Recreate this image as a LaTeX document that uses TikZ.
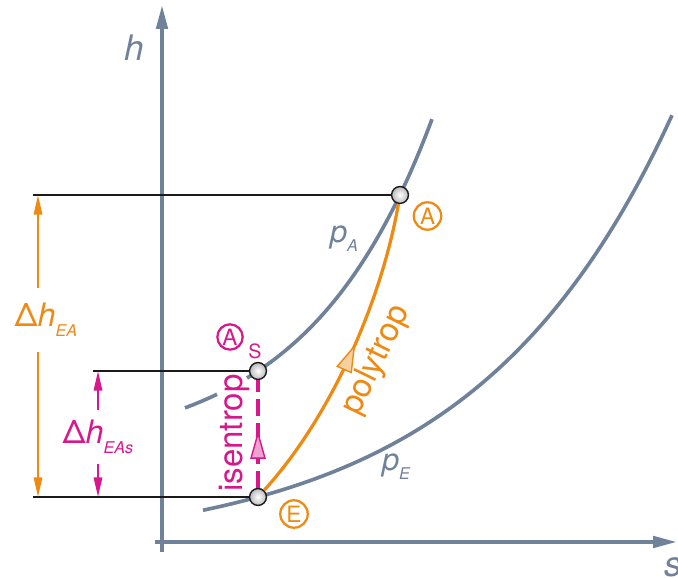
\documentclass[tikz,border=0pt]{standalone}
\usepackage{fontspec}
\setmainfont{TeX Gyre Heros}
\usetikzlibrary{arrows.meta,decorations.markings}
\definecolor{hsaxis}{HTML}{6F8299}
\definecolor{hsorange}{HTML}{EE8A12}
\definecolor{hsmagenta}{HTML}{D8178C}
\definecolor{hsline}{HTML}{1A1A1A}
\newcommand{\hssub}[1]{\raisebox{-0.3em}{\fontsize{11.5}{13}\selectfont\itshape #1}}
\tikzset{
  hs/axis/.style={hsaxis, line width=2.8pt, -{Triangle[length=17pt,width=8pt]}},
  hs/isobar/.style={hsaxis, line width=2.6pt},
  hs/ref/.style={hsline, line width=1pt},
  hs/point/.style={
    circle, draw=hsline, line width=1pt, minimum size=12pt, inner sep=0pt,
    inner color=white, outer color=gray!55
  },
  hs/state/.style={
    circle, draw, line width=1.6pt, minimum size=19.5pt, inner sep=0pt,
    font=\fontsize{16}{16}\selectfont
  },
  hs/dimo/.style={hsorange, line width=1.4pt, -{Triangle[length=14pt,width=6pt]}},
  hs/dimm/.style={hsmagenta, line width=1.4pt, -{Triangle[length=14pt,width=6pt]}},
  hs/lab/.style={font=\fontsize{23}{26}\selectfont, inner sep=0pt},
  hs/proc/.style={font=\fontsize{23.5}{26}\selectfont, inner sep=1pt, anchor=base}
}

\begin{document}
\begin{tikzpicture}[x=0.025cm, y=0.025cm]
  \useasboundingbox (0,0) rectangle (678,578);

  % axes
  \coordinate (hlo) at (162,26);
  \coordinate (htip) at (162,573);
  \coordinate (slo) at (155,36);
  \coordinate (stip) at (677,36);
  \draw[hs/axis] (hlo) -- (htip);
  \draw[hs/axis] (slo) -- (stip);
  \node[hsaxis, font=\fontsize{25}{25}\selectfont\itshape] (hlab) at (134,530) {h};
  \node[hsaxis, font=\fontsize{25}{25}\selectfont\itshape] (slab) at (673,11) {s};

  % isobars
  \draw[hs/isobar] plot[domain=185:217, samples=20] (\x, {123.6+83.4*exp(0.008*(\x-258))});
  \draw[hs/isobar] plot[domain=247:432, samples=60] (\x, {123.6+83.4*exp(0.008*(\x-258))});
  \draw[hs/isobar] plot[domain=203:672, samples=80] (\x, {26+55*exp(0.005*(\x-258))});
  \node[hsaxis, hs/lab, font=\fontsize{22}{24}\selectfont] (pA) at (344,339) {\textit{p}\hssub{A}};
  \node[hsaxis, hs/lab, font=\fontsize{22}{24}\selectfont] (pE) at (396,111) {\textit{p}\hssub{E}};

  % states
  \node[hs/point] (A) at (400,383) {};
  \node[hs/point] (As) at (258,207) {};
  \node[hs/point] (E) at (258,81) {};
  \node[hs/state, hsorange] (Alab) at (427.5,362) {A};
  \node[hs/state, hsorange] (Elab) at (294,64) {E};
  \node[hs/state, hsmagenta, minimum size=18pt] (Aslab) at (230,241) {A};
  \node[hsmagenta, font=\fontsize{14}{14}\selectfont, inner sep=0pt] (Assub) at (255,227) {S};

  % reference lines
  \coordinate (refA) at (33,383);
  \coordinate (refAs) at (93,207);
  \coordinate (refE) at (33,81);
  \draw[hs/ref] (refA) -- (A);
  \draw[hs/ref] (refAs) -- (As);
  \draw[hs/ref] (refE) -- (E);

  % changes of state
  \draw[hsmagenta, line width=2.4pt, dash pattern=on 12pt off 5pt,
    postaction={decorate, decoration={markings, mark=at position 0.53 with
      {\arrow[solid, line width=1pt]{Triangle[length=20pt,width=11pt,fill=hsmagenta!40]}}}}] (E) -- (As);
  \draw[hsorange, line width=2.3pt,
    postaction={decorate, decoration={markings, mark=at position 0.54 with
      {\arrow[line width=1pt]{Triangle[length=20pt,width=12pt,fill=hsorange!40]}}}}]
    (E) .. controls (330,160) and (381,275) .. (A);
  \node[hsmagenta, hs/proc, rotate=90] (isen) at (242,145) {isentrop};
  \node[hsorange, hs/proc, rotate=64] (poly) at (384,214) {polytrop};

  % enthalpy differences
  \coordinate (dA) at (38,383);
  \coordinate (dE) at (38,81);
  \node[hsorange, hs/lab, inner ysep=11pt] (dEA) at (46,258) {Δ\textit{h}\hssub{EA}};
  \draw[hs/dimo] (dEA.north -| dA) -- (dA);
  \draw[hs/dimo] (dEA.south -| dE) -- (dE);
  \coordinate (dAs) at (98,207);
  \coordinate (dEs) at (98,81);
  \node[hsmagenta, hs/lab, inner ysep=7pt] (dEAs) at (98,141) {Δ\textit{h}\hssub{EAs}};
  \draw[hs/dimm] (dEAs.north -| dAs) -- (dAs);
  \draw[hs/dimm] (dEAs.south -| dEs) -- (dEs);
\end{tikzpicture}
\end{document}
